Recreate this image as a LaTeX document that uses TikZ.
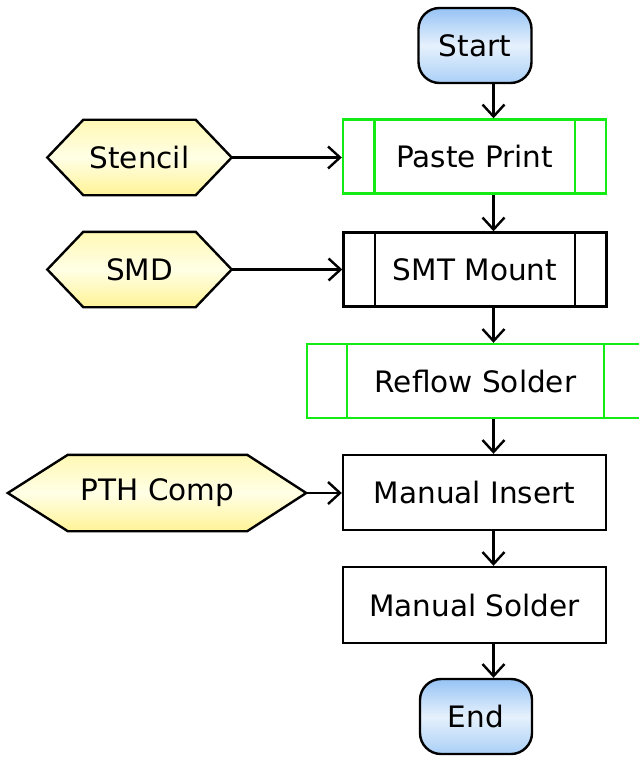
\documentclass[tikz,border=0pt]{standalone}
\usepackage{fontspec}
\setmainfont{DejaVu Sans}
\usetikzlibrary{arrows.meta,calc,backgrounds}
\definecolor{boxgreen}{RGB}{20,235,20}
\definecolor{termtop}{RGB}{150,195,245}
\definecolor{termmid}{RGB}{230,241,252}
\definecolor{termbot}{RGB}{170,208,247}
\definecolor{hextop}{RGB}{255,248,180}
\definecolor{hexmid}{RGB}{255,255,230}
\definecolor{hexbot}{RGB}{255,243,150}
\tikzset{
  x=1pt, y=-1pt,
  every node/.style={font=\fontsize{29.5}{34}\selectfont, text=black, inner sep=0pt},
  term/.style={draw=black, line width=2.4pt, rounded corners=21pt,
    minimum width=113pt, minimum height=75pt,
    top color=termtop, bottom color=termbot, middle color=termmid},
  procbox/.style={draw=black, line width=2.4pt, fill=white, minimum width=263pt, minimum height=74pt},
  subbox/.style={procbox},
  greenbox/.style={procbox, draw=boxgreen},
  hexcore/.style={minimum height=75pt},
  hexfill/.style={draw=black, line width=2.4pt, line join=miter,
    top color=hextop, bottom color=hexbot, middle color=hexmid},
  flow/.style={draw=black, line width=2.4pt, -{Straight Barb[length=12pt,width=22pt,line width=2.4pt]}},
}
\begin{document}
\begin{tikzpicture}
\useasboundingbox (0,0) rectangle (639,757);
% process column
\node[term] (start) at (475,45.5) {Start};
\node[greenbox] (paste) at (474.5,156.5) {Paste Print};
\node[subbox] (smt) at (475,269.5) {SMT Mount};
\node[greenbox, minimum width=337pt] (reflow) at (475.5,381) {Reflow Solder};
\node[procbox, minimum height=75pt] (insert) at (474.5,492.5) {Manual Insert};
\node[procbox, minimum height=76pt] (msolder) at (474.5,605) {Manual Solder};
\node[term, minimum width=112pt] (end) at (476,716.5) {End};
% inner bars of predefined-process boxes
\draw[line width=2.4pt, boxgreen] ($(paste.north west)+(32.5,0)$) -- ($(paste.south west)+(32.5,0)$)
  ($(paste.north east)+(-32.5,0)$) -- ($(paste.south east)+(-32.5,0)$);
\draw[line width=2.4pt, black] ($(smt.north west)+(32.5,0)$) -- ($(smt.south west)+(32.5,0)$)
  ($(smt.north east)+(-32.5,0)$) -- ($(smt.south east)+(-32.5,0)$);
\draw[line width=2.4pt, boxgreen] ($(reflow.north west)+(41,0)$) -- ($(reflow.south west)+(41,0)$)
  ($(reflow.north east)+(-41,0)$) -- ($(reflow.south east)+(-41,0)$);
% input hexagons
\node[hexcore, minimum width=112pt] (stencil) at (139.5,157.5) {Stencil};
\node[hexcore, minimum width=112pt] (smd) at (139.5,269.5) {SMD};
\node[hexcore, minimum width=179pt, minimum height=76pt] (pth) at (157.5,493) {PTH Comp};
\coordinate (stencil-l) at ($(stencil.west)+(-36,0)$);
\coordinate (stencil-r) at ($(stencil.east)+(36,0)$);
\coordinate (smd-l) at ($(smd.west)+(-36,0)$);
\coordinate (smd-r) at ($(smd.east)+(36,0)$);
\coordinate (pth-l) at ($(pth.west)+(-60,0)$);
\coordinate (pth-r) at ($(pth.east)+(59,0)$);
\begin{scope}[on background layer]
  \path[hexfill] (stencil.north west) -- (stencil.north east) -- (stencil-r) -- (stencil.south east) -- (stencil.south west) -- (stencil-l) -- cycle;
  \path[hexfill] (smd.north west) -- (smd.north east) -- (smd-r) -- (smd.south east) -- (smd.south west) -- (smd-l) -- cycle;
  \path[hexfill] (pth.north west) -- (pth.north east) -- (pth-r) -- (pth.south east) -- (pth.south west) -- (pth-l) -- cycle;
\end{scope}
% connectors
\coordinate (ax) at (493.5,0);
\draw[flow] (start.south -| ax) -- (paste.north -| ax);
\draw[flow] (paste.south -| ax) -- (smt.north -| ax);
\draw[flow] (smt.south -| ax) -- (reflow.north -| ax);
\draw[flow] (reflow.south -| ax) -- (insert.north -| ax);
\draw[flow] (insert.south -| ax) -- (msolder.north -| ax);
\draw[flow] (msolder.south -| ax) -- (end.north -| ax);
\draw[flow] (stencil-r) -- (stencil-r -| paste.west);
\draw[flow] (smd-r) -- (smd-r -| smt.west);
\draw[flow] (pth-r) -- (pth-r -| insert.west);
\end{tikzpicture}
\end{document}
